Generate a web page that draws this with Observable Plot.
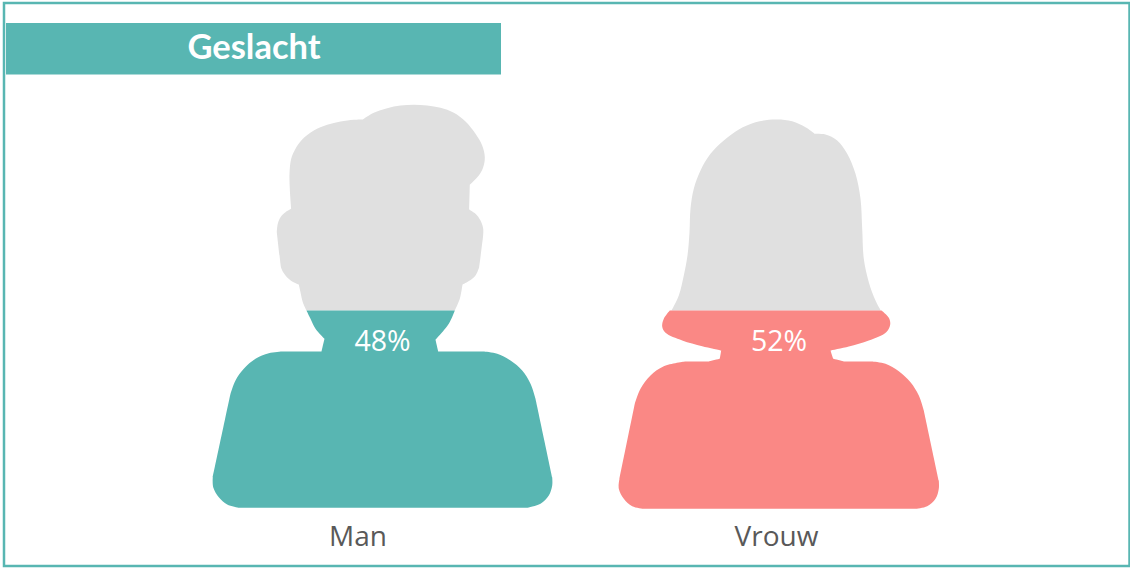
<!DOCTYPE html>
<html>
<head>
<meta charset="utf-8">
<script src="https://cdn.jsdelivr.net/npm/d3@7"></script>
<script src="https://cdn.jsdelivr.net/npm/@observablehq/plot@0.6"></script>
<style>html,body{margin:0;padding:0;background:#fff;overflow:hidden}svg{display:block}</style>
</head>
<body>
<div id="chart"></div>
<script>
const categories = ["Man", "Vrouw"];
const shares = [48, 52];
const title = "Geslacht";

// Outlines; a repeated point is a sharp corner.
const manHead = [[306,310],[306,310],[302.3,301.7],[300,291.7],[298.3,284],[298.3,284],[291.7,281],[285,275],[281,268.3],[280,263.3],[280,263.3],[276.3,231.7],[276.3,231.7],[277.3,223.3],[280,216.7],[285,211.7],[290.7,208.3],[290.7,208.3],[289.3,188.3],[289,173.3],[290.7,158.3],[295,148.3],[301.7,139],[313.3,130],[326.7,124.3],[340,121],[353.3,119.3],[362.3,119],[362.3,119],[373.3,112.3],[386.7,107.7],[400,105],[413.3,104.3],[426.7,105],[440,107.3],[453.3,112.3],[465,121],[475,133.3],[481.7,145],[484.3,156.7],[482.7,166.7],[478.3,175],[469.3,184.3],[469.3,184.3],[468.7,209],[468.7,209],[475,213.3],[480,220],[482.7,228.3],[482.3,238.3],[482.3,238.3],[478.7,266.7],[478.7,266.7],[475,275],[469.3,280],[462,284],[462,284],[459.3,298.3],[454.3,310],[454.3,310]];
const manBody = [[454.3,310],[454.3,310],[448.3,323.3],[435,339.3],[435,339.3],[437.7,351],[437.7,351],[483.3,351],[483.3,351],[496.7,353.3],[510,360],[521.7,370],[530,383.3],[535,398.3],[535,398.3],[551.7,476.7],[551.7,476.7],[551.7,485],[548.3,495],[540,503.3],[526.7,507.3],[526.7,507.3],[238.3,507.3],[238.3,507.3],[226.7,504],[218.3,496.7],[212.7,486.7],[212.3,476.7],[212.3,476.7],[230,393.3],[230,393.3],[235,380],[243.3,368.3],[255,358.3],[268.3,352.7],[281.7,351],[281.7,351],[321,351],[321,351],[324,338.3],[324,338.3],[315,328.3],[310,318.3],[306,310],[306,310]];
const womanHead = [[671,310],[671,310],[678.3,295],[683.3,275],[687,255],[689,231.7],[690,208.3],[693.3,188.3],[700,170],[710,153.3],[723.3,140],[738.3,129],[755,121.7],[775,119],[791.7,120.7],[805,126.7],[814.3,133.3],[814.3,133.3],[825,134],[836.7,140],[846.7,153.3],[855,173.3],[860,198.3],[861.7,228.3],[863.3,258.3],[868.3,281.7],[875,300],[880.3,310],[880.3,310]];
const womanBody = [[881,310],[881,310],[888.3,317.3],[889.7,324],[885.7,331.7],[868.3,340],[848.3,346],[830,350],[830,350],[832.7,358.3],[832.7,358.3],[843.3,361],[843.3,361],[871.7,361],[871.7,361],[885,363.3],[898.3,370.7],[910,381.7],[918.3,395],[923.3,410],[923.3,410],[938.3,480],[938.3,480],[938.3,488.3],[935,498.3],[926.7,505.7],[915,508.3],[915,508.3],[643.3,508.3],[643.3,508.3],[631.7,505.7],[623.3,498.3],[618.3,488.3],[619,478.3],[619,478.3],[634.3,403.3],[634.3,403.3],[640,388.3],[650,375],[663.3,365.7],[685,361],[685,361],[708.3,361],[708.3,361],[719.3,358.3],[719.3,358.3],[720.7,350],[720.7,350],[701.7,345.7],[681.7,340],[665,332.3],[661.7,326],[663.3,318.3],[669.3,310],[669.3,310]];

const teal = "#58b6b2", pink = "#fa8885", grey = "#e0e0e0";
const shape = (pts, fill) => Plot.line(pts, {x: d => d[0], y: d => d[1], fill, stroke: "none", curve: "catmull-rom"});

const plot = Plot.plot({
  width: 1130, height: 568,
  margin: 0,
  x: {domain: [0, 1130], range: [0, 1130], axis: null},
  y: {domain: [0, 568], range: [0, 568], axis: null},
  marks: [
    Plot.rect([0], {x1: 4, x2: 1129.5, y1: 3, y2: 566, fill: "none", stroke: teal, strokeWidth: 2.5}),
    Plot.rect([0], {x1: 6, x2: 501, y1: 23, y2: 74.5, fill: teal}),
    Plot.text([title], {x: 253.5, y: 47.5, text: d => d, fill: "#fff", fontSize: 34.5, fontWeight: 700, fontFamily: "Lato"}),
    shape(manHead, grey),
    shape(manBody, teal),
    shape(womanHead, grey),
    shape(womanBody, pink),
    Plot.text(shares, {x: [382, 778.5], y: [341, 341], text: d => d + "%", fill: "#fff", fontSize: 28.5, fontFamily: "Open Sans"}),
    Plot.text(categories, {x: [357.5, 776], y: [537, 537], text: d => d, fill: "#595959", fontSize: 28, fontFamily: "Open Sans"})
  ]
});
document.getElementById("chart").append(plot);
</script>
</body>
</html>
